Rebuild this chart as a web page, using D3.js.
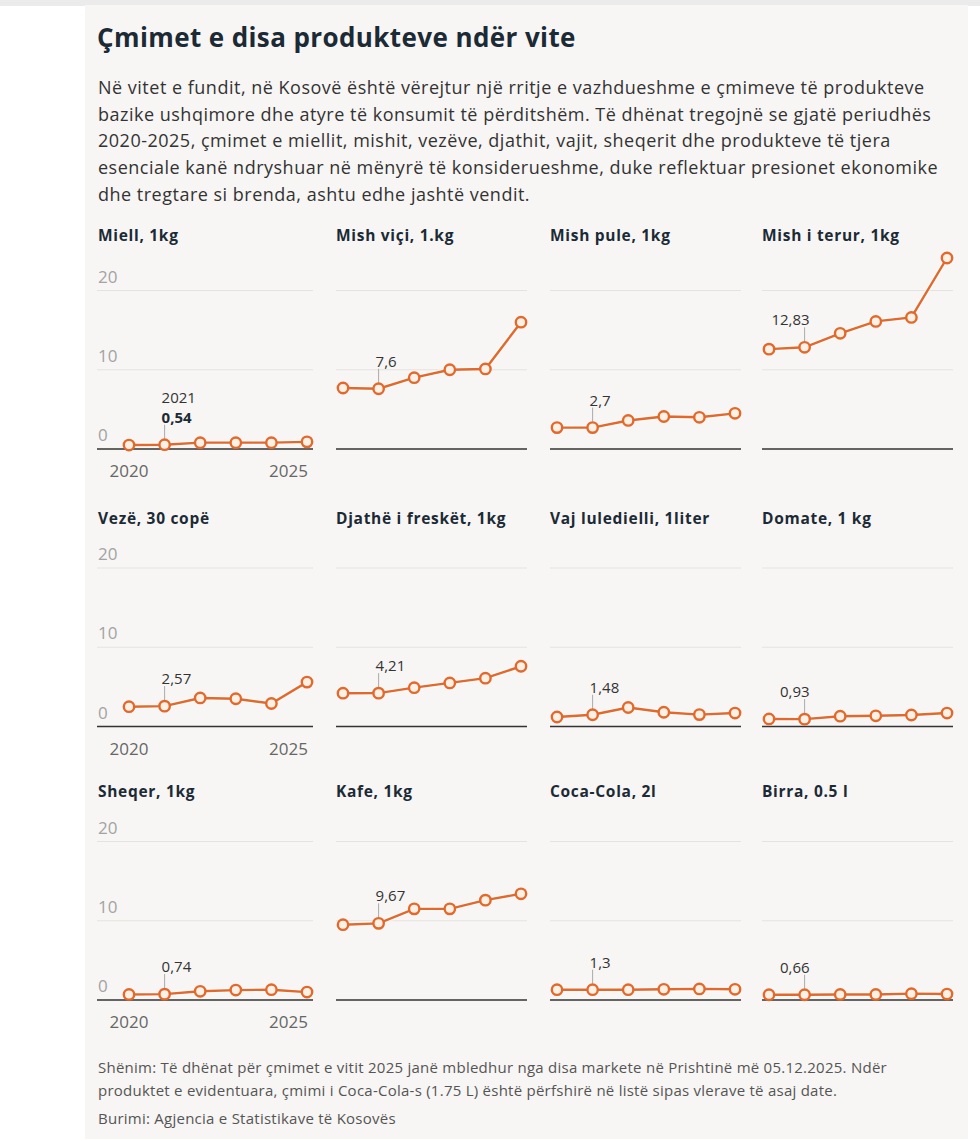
<!DOCTYPE html>
<html>
<head>
<meta charset="utf-8">
<script src="https://cdn.jsdelivr.net/npm/d3@7"></script>
<style>
body{margin:0;background:#fff;}
text{font-family:"Open Sans","Noto Sans",sans-serif;}
</style>
</head>
<body>
<div id="chart"></div>
<script>
// dati
var years = [2020, 2021, 2022, 2023, 2024, 2025];
var titles = ["Miell, 1kg", "Mish viçi, 1.kg", "Mish pule, 1kg", "Mish i terur, 1kg",
  "Vezë, 30 copë", "Djathë i freskët, 1kg", "Vaj luledielli, 1liter", "Domate, 1 kg",
  "Sheqer, 1kg", "Kafe, 1kg", "Coca-Cola, 2l", "Birra, 0.5 l"];

var miell = [0.5, 0.54, 0.8, 0.8, 0.8, 0.9];
var mishVici = [7.7, 7.6, 9.0, 10.0, 10.1, 16.0];
var mishPule = [2.7, 2.7, 3.6, 4.1, 4.0, 4.5];
var mishTerur = [12.6, 12.83, 14.6, 16.1, 16.6, 24.1];
var veze = [2.5, 2.57, 3.6, 3.5, 2.9, 5.6];
var djathe = [4.2, 4.21, 4.9, 5.5, 6.1, 7.6];
var vaj = [1.2, 1.48, 2.4, 1.8, 1.5, 1.7];
var domate = [0.95, 0.93, 1.3, 1.35, 1.45, 1.7];
var sheqer = [0.7, 0.74, 1.1, 1.25, 1.3, 1.0];
var kafe = [9.5, 9.67, 11.5, 11.5, 12.6, 13.4];
var cocaCola = [1.3, 1.3, 1.3, 1.35, 1.4, 1.35];
var birra = [0.66, 0.66, 0.7, 0.7, 0.8, 0.75];

var series = [miell, mishVici, mishPule, mishTerur, veze, djathe, vaj, domate, sheqer, kafe, cocaCola, birra];

var yTicks = [0, 10, 20];
var xTicks = [2020, 2025];
var annotYear = 2021;

var titolo = "Çmimet e disa produkteve ndër vite";
var intro = [
  "Në vitet e fundit, në Kosovë është vërejtur një rritje e vazhdueshme e çmimeve të produkteve",
  "bazike ushqimore dhe atyre të konsumit të përditshëm. Të dhënat tregojnë se gjatë periudhës",
  "2020-2025, çmimet e miellit, mishit, vezëve, djathit, vajit, sheqerit dhe produkteve të tjera",
  "esenciale kanë ndryshuar në mënyrë të konsiderueshme, duke reflektuar presionet ekonomike",
  "dhe tregtare si brenda, ashtu edhe jashtë vendit."
];
var note = [
  "Shënim: Të dhënat për çmimet e vitit 2025 janë mbledhur nga disa markete në Prishtinë më 05.12.2025. Ndër",
  "produktet e evidentuara, çmimi i Coca-Cola-s (1.75 L) është përfshirë në listë sipas vlerave të asaj date."
];
var fonte = "Burimi: Agjencia e Statistikave të Kosovës";

// layout
var larghezza = 980, altezza = 1139;
var colStart = [129, 343, 557, 769];   // x del primo punto
var colW = 178;
var rowBase = [449, 726.5, 1000];      // y della linea dello zero
var rowH = 158.5;                      // 0 -> 20
var arancio = "#e2682b";

var svg = d3.select("#chart").append("svg")
  .attr("width", larghezza).attr("height", altezza);

// sfondo
svg.append("rect").attr("x", 0).attr("y", 0).attr("width", larghezza).attr("height", 6).attr("fill", "#ebebeb");
svg.append("rect").attr("x", 85).attr("y", 5).attr("width", 883).attr("height", altezza - 5).attr("fill", "#f7f6f4");

svg.append("text").attr("x", 97).attr("y", 47)
  .attr("font-size", 26).attr("font-weight", 700).attr("fill", "#1c2a35")
  .attr("letter-spacing", 0.4)
  .text(titolo);

svg.selectAll("text.intro").data(intro).enter().append("text")
  .attr("class", "intro")
  .attr("x", 98).attr("y", function(d, i) { return 94 + i * 26.7; })
  .attr("font-size", 18).attr("fill", "#333")
  .attr("letter-spacing", 0.5)
  .text(function(d) { return d; });

var fmt = function(v) { return String(v).replace(".", ","); };

series.forEach(function(vals, k) {
  var col = k % 4, row = Math.floor(k / 4);
  var x = d3.scaleLinear().domain([2020, 2025]).range([colStart[col], colStart[col] + colW]);
  var y = d3.scaleLinear().domain([0, 20]).range([rowBase[row], rowBase[row] - rowH]);
  var g = svg.append("g");
  var gx0 = col == 0 ? 97 : colStart[col] - 7;
  var gx1 = colStart[col] + colW + 6;

  // titolo del pannello
  g.append("text").attr("x", colStart[col] - (col == 0 ? 31 : 7))
    .attr("y", rowBase[row] - (row == 0 ? 208 : 203))
    .attr("font-size", 15.5).attr("font-weight", 700).attr("fill", "#1c2a35")
    .attr("letter-spacing", 0.7)
    .text(titles[k]);

  // griglia
  g.selectAll("line.grid").data(yTicks).enter().append("line")
    .attr("x1", gx0).attr("x2", gx1)
    .attr("y1", function(d) { return y(d); }).attr("y2", function(d) { return y(d); })
    .attr("stroke", function(d) { return d == 0 ? "#333" : "#e4e3e1"; })
    .attr("stroke-width", function(d) { return d == 0 ? 1.6 : 1.2; });

  if (col == 0) {
    g.selectAll("text.yl").data(yTicks).enter().append("text")
      .attr("x", 98).attr("y", function(d) { return y(d) - 8; })
      .attr("font-size", 17).attr("fill", "#a3a3a3")
      .text(function(d) { return d; });
    g.selectAll("text.xl").data(xTicks).enter().append("text")
      .attr("x", function(d, i) { return i == 0 ? x(d) : x(d) + 1; })
      .attr("y", rowBase[row] + 28)
      .attr("text-anchor", function(d, i) { return i == 0 ? "middle" : "end"; })
      .attr("font-size", 17).attr("fill", "#666")
      .text(function(d) { return d; });
  }

  var punti = years.map(function(yr, i) { return {yr: yr, v: vals[i]}; });

  // annotazione 2021
  var a = punti[years.indexOf(annotYear)];
  var ax = x(a.yr), ay = y(a.v);
  g.append("line").attr("x1", ax).attr("x2", ax).attr("y1", ay - 6).attr("y2", ay - 20)
    .attr("stroke", "#aaa").attr("stroke-width", 1);
  var lab = g.append("text")
    .attr("x", col == 3 ? ax + 5 : ax - 3).attr("y", ay - 22)
    .attr("text-anchor", col == 3 ? "end" : "start")
    .attr("font-size", 15).attr("fill", "#333");
  if (k == 0) {
    lab.attr("font-weight", 700).attr("fill", "#1c2a35").text(fmt(a.v));
    g.append("text").attr("x", ax - 3).attr("y", ay - 42)
      .attr("font-size", 15).attr("fill", "#333").text(a.yr);
  } else {
    lab.text(fmt(a.v));
  }

  var linea = d3.line().x(function(d) { return x(d.yr); }).y(function(d) { return y(d.v); });
  g.append("path").datum(punti).attr("d", linea)
    .attr("fill", "none").attr("stroke", "#fff").attr("stroke-width", 5).attr("stroke-opacity", 0.6);
  g.append("path").datum(punti).attr("d", linea)
    .attr("fill", "none").attr("stroke", arancio).attr("stroke-width", 2.4);
  g.selectAll("circle").data(punti).enter().append("circle")
    .attr("cx", function(d) { return x(d.yr); })
    .attr("cy", function(d) { return y(d.v); })
    .attr("r", 5.2)
    .attr("fill", "#fdf1e6").attr("stroke", arancio).attr("stroke-width", 2.4);
});

svg.selectAll("text.note").data(note).enter().append("text")
  .attr("x", 98).attr("y", function(d, i) { return 1073 + i * 22.5; })
  .attr("font-size", 15).attr("fill", "#555")
  .attr("letter-spacing", 0.25)
  .text(function(d) { return d; });
svg.append("text").attr("x", 98).attr("y", 1124)
  .attr("font-size", 15).attr("fill", "#555")
  .attr("letter-spacing", 0.25)
  .text(fonte);
</script>
</body>
</html>
